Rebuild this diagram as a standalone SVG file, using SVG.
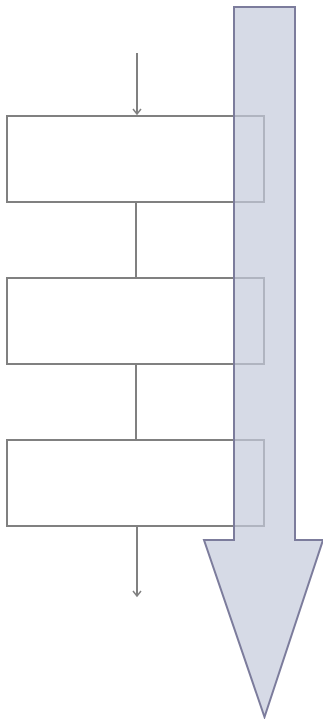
<svg xmlns="http://www.w3.org/2000/svg" width="323" height="719" viewBox="0 0 323 719">
<style>
.box{fill:#ffffff;stroke:#808080;stroke-width:2}
.conn{fill:none;stroke:#808080;stroke-width:2}
.big{fill:#c4cadb;fill-opacity:0.7;stroke:#7c7c9c;stroke-width:2;stroke-linejoin:miter}
</style>
<defs>
<marker id="ah" markerWidth="10" markerHeight="10" refX="8" refY="5" orient="auto" markerUnits="userSpaceOnUse" viewBox="0 0 10 10">
<polyline points="3,1 8,5 3,9" fill="none" stroke="#808080" stroke-width="1.5"/>
</marker>
</defs>
<g id="box1"><rect class="box" x="7" y="116" width="257" height="86"/></g>
<g id="box2"><rect class="box" x="7" y="278" width="257" height="86"/></g>
<g id="box3"><rect class="box" x="7" y="440" width="257" height="86"/></g>
<g id="connectors">
<line class="conn" x1="137" y1="53" x2="137" y2="114" marker-end="url(#ah)"/>
<line class="conn" x1="136" y1="202" x2="136" y2="278"/>
<line class="conn" x1="136" y1="364" x2="136" y2="440"/>
<line class="conn" x1="137" y1="526" x2="137" y2="596" marker-end="url(#ah)"/>
</g>
<g id="bigArrow">
<polygon class="big" points="234,7 295,7 295,540 323,540 264.5,717 204,540 234,540"/>
</g>
</svg>
